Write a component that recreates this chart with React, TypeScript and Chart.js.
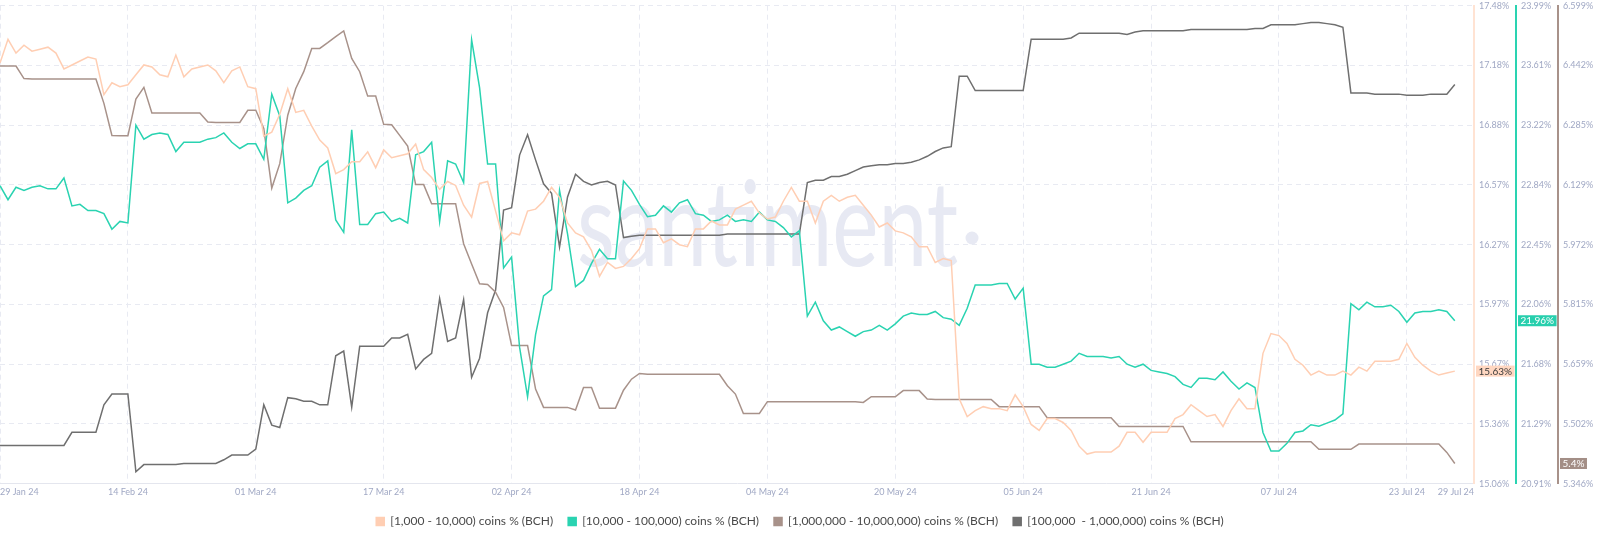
import React, { useEffect, useRef } from 'react';
import { Chart, registerables } from 'chart.js';

Chart.register(...registerables);

// ---------- data (one value per day, 29 Jan 24 .. 29 Jul 24) ----------
const SERIES_NAMES = [
  '[1,000 - 10,000) coins % (BCH)',
  '[10,000 - 100,000) coins % (BCH)',
  '[1,000,000 - 10,000,000) coins % (BCH)',
  '[100,000  - 1,000,000) coins % (BCH)',
];

const X_TICK_DAYS = [0, 16, 32, 48, 64, 80, 96, 112, 128, 144, 160, 176];
const X_TICK_LABELS = ['29 Jan 24', '14 Feb 24', '01 Mar 24', '17 Mar 24', '02 Apr 24', '18 Apr 24', '04 May 24', '20 May 24', '05 Jun 24', '21 Jun 24', '07 Jul 24', '23 Jul 24'];
const X_END_LABEL = '29 Jul 24';

const COINS_1K_10K = [
  17.19, 17.31, 17.24, 17.28, 17.25, 17.26, 17.27, 17.24, 17.16, 17.18,
  17.20, 17.22, 17.21, 17.03, 17.09, 17.07, 17.08, 17.13, 17.18, 17.17,
  17.13, 17.12, 17.23, 17.12, 17.16, 17.17, 17.18, 17.15, 17.09, 17.15,
  17.17, 17.07, 17.06, 16.82, 16.84, 16.93, 17.06, 16.94, 16.95, 16.87,
  16.80, 16.76, 16.63, 16.65, 16.69, 16.69, 16.74, 16.66, 16.75, 16.71,
  16.72, 16.73, 16.78, 16.65, 16.61, 16.55, 16.59, 16.57, 16.47, 16.41,
  16.58, 16.59, 16.44, 16.29, 16.33, 16.32, 16.44, 16.45, 16.49, 16.56,
  16.51, 16.38, 16.33, 16.31, 16.24, 16.11, 16.18, 16.15, 16.16, 16.20,
  16.25, 16.35, 16.35, 16.28, 16.30, 16.27, 16.26, 16.35, 16.35, 16.39,
  16.37, 16.37, 16.45, 16.47, 16.49, 16.43, 16.40, 16.41, 16.49, 16.56,
  16.49, 16.49, 16.38, 16.49, 16.52, 16.49, 16.51, 16.52, 16.47, 16.42,
  16.36, 16.38, 16.34, 16.33, 16.31, 16.26, 16.26, 16.18, 16.20, 16.19,
  15.49, 15.40, 15.43, 15.45, 15.44, 15.44, 15.43, 15.51, 15.45, 15.36,
  15.33, 15.39, 15.39, 15.37, 15.33, 15.25, 15.21, 15.22, 15.22, 15.22,
  15.25, 15.32, 15.32, 15.27, 15.32, 15.32, 15.32, 15.39, 15.41, 15.46,
  15.43, 15.40, 15.41, 15.35, 15.43, 15.49, 15.44, 15.44, 15.72, 15.82,
  15.81, 15.77, 15.69, 15.66, 15.61, 15.63, 15.61, 15.61, 15.63, 15.61,
  15.65, 15.63, 15.68, 15.68, 15.68, 15.69, 15.77, 15.70, 15.66, 15.63,
  15.61, 15.62, 15.63,
];

const COINS_10K_100K = [
  22.83, 22.74, 22.82, 22.80, 22.82, 22.83, 22.81, 22.81, 22.88, 22.70,
  22.71, 22.67, 22.67, 22.65, 22.55, 22.60, 22.59, 23.22, 23.13, 23.16,
  23.17, 23.16, 23.05, 23.11, 23.11, 23.11, 23.13, 23.14, 23.17, 23.11,
  23.07, 23.10, 23.10, 23.00, 23.42, 23.28, 22.72, 22.75, 22.80, 22.83,
  22.95, 22.99, 22.61, 22.53, 23.19, 22.58, 22.58, 22.65, 22.66, 22.60,
  22.62, 22.59, 23.03, 23.05, 23.11, 22.60, 22.99, 22.97, 22.85, 23.77,
  23.46, 22.97, 22.97, 22.30, 22.37, 21.79, 21.47, 21.87, 22.12, 22.16,
  22.80, 22.52, 22.18, 22.22, 22.33, 22.42, 22.36, 22.36, 22.86, 22.80,
  22.71, 22.63, 22.64, 22.70, 22.66, 22.72, 22.74, 22.65, 22.64, 22.60,
  22.61, 22.64, 22.60, 22.61, 22.60, 22.66, 22.61, 22.60, 22.56, 22.50,
  22.54, 21.99, 22.08, 21.96, 21.90, 21.92, 21.89, 21.86, 21.89, 21.90,
  21.93, 21.90, 21.94, 21.99, 22.01, 22.00, 22.00, 22.02, 21.98, 21.97,
  21.93, 22.04, 22.19, 22.19, 22.19, 22.20, 22.20, 22.10, 22.17, 21.68,
  21.68, 21.66, 21.66, 21.68, 21.70, 21.75, 21.73, 21.73, 21.73, 21.72,
  21.73, 21.68, 21.66, 21.68, 21.64, 21.63, 21.62, 21.60, 21.55, 21.53,
  21.59, 21.59, 21.58, 21.63, 21.57, 21.52, 21.56, 21.53, 21.24, 21.12,
  21.12, 21.17, 21.24, 21.25, 21.29, 21.28, 21.30, 21.32, 21.36, 22.07,
  22.03, 22.08, 22.05, 22.05, 22.06, 22.02, 21.95, 22.01, 22.02, 22.02,
  22.03, 22.02, 21.96,
];

const COINS_1M_10M = [
  6.441, 6.441, 6.441, 6.408, 6.407, 6.407, 6.407, 6.407, 6.407, 6.407,
  6.407, 6.407, 6.407, 6.343, 6.259, 6.258, 6.258, 6.354, 6.385, 6.318,
  6.318, 6.318, 6.318, 6.318, 6.318, 6.318, 6.294, 6.293, 6.293, 6.293,
  6.293, 6.325, 6.325, 6.277, 6.121, 6.185, 6.312, 6.382, 6.426, 6.487,
  6.487, 6.502, 6.518, 6.533, 6.461, 6.426, 6.362, 6.362, 6.288, 6.287,
  6.259, 6.231, 6.130, 6.130, 6.080, 6.080, 6.080, 6.080, 5.975, 5.922,
  5.870, 5.868, 5.848, 5.808, 5.708, 5.708, 5.708, 5.594, 5.546, 5.546,
  5.546, 5.546, 5.539, 5.598, 5.598, 5.544, 5.544, 5.544, 5.591, 5.620,
  5.635, 5.633, 5.633, 5.633, 5.633, 5.633, 5.633, 5.633, 5.633, 5.633,
  5.633, 5.603, 5.581, 5.530, 5.530, 5.530, 5.561, 5.561, 5.561, 5.561,
  5.561, 5.561, 5.561, 5.561, 5.561, 5.561, 5.561, 5.561, 5.559, 5.574,
  5.574, 5.574, 5.574, 5.590, 5.590, 5.590, 5.568, 5.567, 5.567, 5.567,
  5.567, 5.567, 5.567, 5.567, 5.567, 5.548, 5.548, 5.548, 5.548, 5.548,
  5.548, 5.519, 5.519, 5.519, 5.519, 5.519, 5.519, 5.519, 5.519, 5.519,
  5.496, 5.496, 5.496, 5.496, 5.496, 5.496, 5.496, 5.496, 5.496, 5.456,
  5.456, 5.456, 5.456, 5.456, 5.456, 5.456, 5.456, 5.456, 5.456, 5.456,
  5.456, 5.456, 5.456, 5.456, 5.456, 5.436, 5.436, 5.436, 5.436, 5.436,
  5.450, 5.450, 5.450, 5.450, 5.450, 5.450, 5.450, 5.450, 5.450, 5.450,
  5.450, 5.428, 5.399,
];

const COINS_100K_1M = [
  26.32, 26.32, 26.32, 26.32, 26.32, 26.32, 26.32, 26.32, 26.32, 26.43,
  26.43, 26.43, 26.43, 26.66, 26.75, 26.75, 26.75, 26.10, 26.16, 26.16,
  26.16, 26.16, 26.16, 26.17, 26.17, 26.17, 26.17, 26.17, 26.20, 26.24,
  26.24, 26.24, 26.29, 26.66, 26.49, 26.47, 26.72, 26.71, 26.69, 26.69,
  26.66, 26.66, 27.07, 27.11, 26.64, 27.15, 27.15, 27.15, 27.15, 27.22,
  27.22, 27.25, 26.96, 27.04, 27.09, 27.55, 27.19, 27.22, 27.54, 26.89,
  27.05, 27.43, 27.62, 28.29, 28.31, 28.75, 28.92, 28.71, 28.51, 28.43,
  27.98, 28.40, 28.59, 28.53, 28.50, 28.52, 28.53, 28.50, 28.06, 28.07,
  28.08, 28.08, 28.08, 28.08, 28.08, 28.08, 28.08, 28.08, 28.08, 28.08,
  28.08, 28.09, 28.09, 28.09, 28.09, 28.09, 28.09, 28.09, 28.09, 28.09,
  28.09, 28.52, 28.54, 28.54, 28.57, 28.57, 28.59, 28.62, 28.65, 28.66,
  28.67, 28.67, 28.68, 28.68, 28.69, 28.71, 28.74, 28.78, 28.81, 28.82,
  29.41, 29.41, 29.29, 29.29, 29.29, 29.29, 29.29, 29.29, 29.29, 29.72,
  29.72, 29.72, 29.72, 29.72, 29.73, 29.77, 29.77, 29.77, 29.77, 29.77,
  29.77, 29.76, 29.78, 29.79, 29.79, 29.79, 29.79, 29.79, 29.79, 29.80,
  29.80, 29.80, 29.80, 29.80, 29.80, 29.80, 29.80, 29.81, 29.81, 29.84,
  29.84, 29.84, 29.84, 29.85, 29.86, 29.86, 29.85, 29.84, 29.82, 29.27,
  29.27, 29.27, 29.26, 29.26, 29.26, 29.26, 29.25, 29.25, 29.25, 29.26,
  29.26, 29.26, 29.34,
];

// axis ranges and their tick labels (bottom to top)
const AX1_RANGE = [15.06, 17.48];
const AX1_LABELS = ['15.06%', '15.36%', '15.67%', '15.97%', '16.27%', '16.57%', '16.88%', '17.18%', '17.48%'];
const AX2_RANGE = [20.91, 23.99];
const AX2_LABELS = ['20.91%', '21.29%', '21.68%', '22.06%', '22.45%', '22.84%', '23.22%', '23.61%', '23.99%'];
const AX3_RANGE = [5.346, 6.599];
const AX3_LABELS = ['5.346%', '5.502%', '5.659%', '5.815%', '5.972%', '6.129%', '6.285%', '6.442%', '6.599%'];
const AX4_RANGE = [26, 30];

// ---------- styling ----------
const X_MAX = 184.4;
const COLORS = ['#ffceb3', '#2ad3b1', '#a8928a', '#6f6f6f'];
const TICK_COLOR = '#a0a8c4';
const GRID_COLOR = '#e8eaf2';
const FONT = 'Lato';

function buildTicks(range: number[]) {
  return (scale: any) => {
    const t = [];
    for (let i = 0; i <= 8; i++) t.push({ value: range[0] + ((range[1] - range[0]) * i) / 8 });
    scale.ticks = t;
  };
}

function rightAxis(range: number[], labels: string[], weight: number, borderColor: string, onChart: boolean) {
  return {
    type: 'linear',
    position: 'right',
    weight,
    min: range[0],
    max: range[1],
    afterBuildTicks: buildTicks(range),
    afterFit: (s: any) => {
      s.width = 42;
      s.paddingTop = 5.7;
      s.paddingBottom = 0;
    },
    ticks: {
      callback: (_v: any, i: number) => labels[i],
      color: TICK_COLOR,
      font: { family: FONT, size: 9 },
      padding: 5,
    },
    grid: { display: true, drawOnChartArea: onChart, drawTicks: false, color: GRID_COLOR, lineWidth: 1 },
    border: { display: true, color: borderColor, width: 2, dash: [5, 4] },
  };
}

const watermark = {
  id: 'watermark',
  beforeDatasetsDraw(chart: any) {
    const { ctx } = chart;
    ctx.save();
    ctx.fillStyle = '#e7e9f3';
    ctx.font = `118px ${FONT}`;
    ctx.textBaseline = 'alphabetic';
    const text = 'santiment';
    const w = ctx.measureText(text).width;
    const targetW = 381;
    ctx.translate(577, 266);
    ctx.scale(targetW / w, 1);
    ctx.fillText(text, 0, 0);
    ctx.restore();
    ctx.save();
    ctx.fillStyle = '#e7e9f3';
    ctx.beginPath();
    ctx.arc(972, 238, 6.5, 0, Math.PI * 2);
    ctx.fill();
    ctx.restore();
  },
};

const valueTags = {
  id: 'valueTags',
  afterDraw(chart: any) {
    const { ctx } = chart;
    const tags = [
      { ds: 0, axis: 'y1', bg: '#ffd7c1', fg: '#3b3b3b' },
      { ds: 1, axis: 'y2', bg: '#27cfad', fg: '#ffffff' },
      { ds: 2, axis: 'y3', bg: '#a38e86', fg: '#ffffff' },
    ];
    ctx.save();
    ctx.font = `10px ${FONT}`;
    ctx.textBaseline = 'middle';
    ctx.textAlign = 'left';
    for (const t of tags) {
      const data = chart.data.datasets[t.ds].data;
      const last = data[data.length - 1].y;
      const scale = chart.scales[t.axis];
      const y = scale.getPixelForValue(last);
      const label = parseFloat(last.toFixed(2)) + '%';
      const w = ctx.measureText(label).width + 5;
      const x = scale.left + 2;
      ctx.fillStyle = t.bg;
      ctx.fillRect(x, y - 5.5, w, 11);
      ctx.fillStyle = t.fg;
      ctx.fillText(label, x + 2.5, y + 0.5);
    }
    ctx.restore();
  },
};

export default function App() {
  const ref = useRef<HTMLCanvasElement | null>(null);

  useEffect(() => {
    document.body.style.margin = '0';
    const toPts = (arr: number[]) => arr.map((v, i) => ({ x: i, y: v }));
    const allSeries = [COINS_1K_10K, COINS_10K_100K, COINS_1M_10M, COINS_100K_1M];
    const axisIds = ['y1', 'y2', 'y3', 'y4'];
    const chart = new Chart(ref.current as HTMLCanvasElement, {
      type: 'line',
      data: {
        datasets: allSeries.map((s, i) => ({
          label: SERIES_NAMES[i],
          data: toPts(s),
          yAxisID: axisIds[i],
          borderColor: COLORS[i],
          backgroundColor: COLORS[i],
          borderWidth: 1.5,
          pointRadius: 0,
          tension: 0,
          fill: false,
        })),
      },
      options: {
        animation: false,
        responsive: true,
        maintainAspectRatio: false,
        parsing: false,
        normalized: true,
        layout: { padding: { left: 0, right: 0, top: 0, bottom: 4.5 } },
        plugins: {
          tooltip: { enabled: false },
          legend: {
            position: 'bottom',
            labels: {
              boxWidth: 8,
              boxHeight: 8,
              padding: 15,
              color: '#4a4a4a',
              font: { family: FONT, size: 12 },
            },
          },
        },
        scales: {
          x: {
            type: 'linear',
            min: 0,
            max: X_MAX,
            afterBuildTicks: (s: any) => {
              s.ticks = [...X_TICK_DAYS.map((v) => ({ value: v })), { value: X_MAX }];
            },
            afterFit: (s: any) => { s.paddingLeft = 0; s.paddingRight = 0; },
            ticks: {
              callback: (_v: any, i: number) => (i < X_TICK_LABELS.length ? X_TICK_LABELS[i] : X_END_LABEL),
              align: 'inner',
              autoSkip: false,
              maxRotation: 0,
              color: TICK_COLOR,
              font: { family: FONT, size: 9 },
              padding: 3,
            },
            grid: {
              drawTicks: false,
              color: (c: any) => (c.index === X_TICK_DAYS.length ? 'rgba(0,0,0,0)' : GRID_COLOR),
            },
            border: { display: true, color: '#e4e6ee', width: 1, dash: [5, 4] },
          },
          y1: rightAxis(AX1_RANGE, AX1_LABELS, 0, '#ffe3d3', true),
          y2: rightAxis(AX2_RANGE, AX2_LABELS, 1, '#2ad3b1', false),
          y3: rightAxis(AX3_RANGE, AX3_LABELS, 2, '#a8928a', false),
          y4: { type: 'linear', display: false, min: AX4_RANGE[0], max: AX4_RANGE[1] },
        },
      } as any,
      plugins: [watermark, valueTags],
    });
    return () => chart.destroy();
  }, []);

  return (
    <div style={{ position: 'fixed', left: 0, top: 0, width: 1600, height: 542, background: '#fff' }}>
      <canvas ref={ref} />
    </div>
  );
}
